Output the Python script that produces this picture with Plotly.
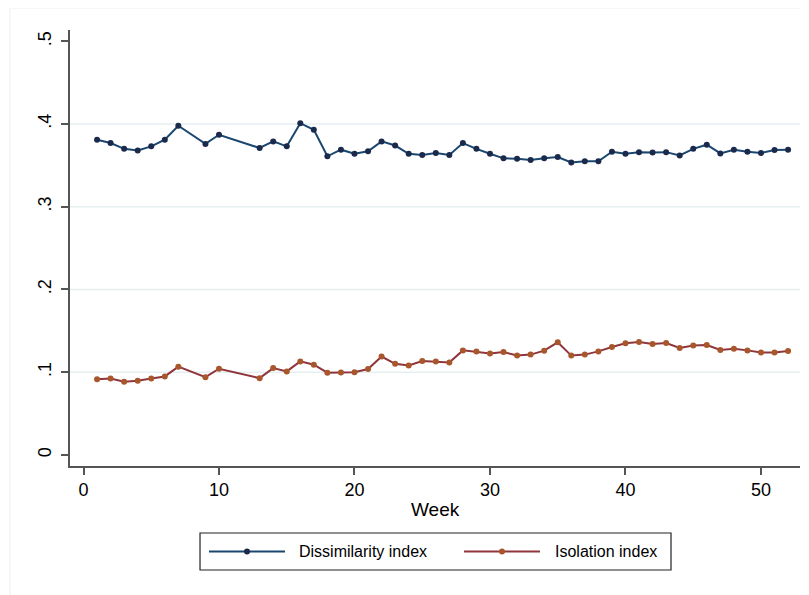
import plotly.graph_objects as go

# weeks 8, 11 and 12 have no observation
weeks = [1, 2, 3, 4, 5, 6, 7, 9, 10, 13, 14, 15, 16, 17, 18, 19, 20, 21, 22, 23,
         24, 25, 26, 27, 28, 29, 30, 31, 32, 33, 34, 35, 36, 37, 38, 39, 40, 41,
         42, 43, 44, 45, 46, 47, 48, 49, 50, 51, 52]

dissimilarity = [0.381, 0.377, 0.370, 0.368, 0.373, 0.381, 0.398, 0.376, 0.387,
                 0.371, 0.379, 0.373, 0.401, 0.393, 0.361, 0.369, 0.364, 0.367,
                 0.379, 0.374, 0.364, 0.3625, 0.365, 0.3625, 0.377, 0.370, 0.364,
                 0.3585, 0.358, 0.3565, 0.3585, 0.360, 0.3535, 0.355, 0.355,
                 0.3665, 0.364, 0.366, 0.3655, 0.366, 0.362, 0.370, 0.375, 0.3645,
                 0.369, 0.3665, 0.365, 0.3685, 0.369]

isolation = [0.0915, 0.0923, 0.0883, 0.0895, 0.0923, 0.0948, 0.1066, 0.0939,
             0.1041, 0.0927, 0.1049, 0.1009, 0.113, 0.109, 0.0993, 0.0996, 0.100,
             0.1037, 0.1189, 0.110, 0.1081, 0.1134, 0.113, 0.1117, 0.1263, 0.1248,
             0.1224, 0.1243, 0.120, 0.1212, 0.126, 0.1361, 0.120, 0.1212, 0.1251,
             0.1304, 0.1349, 0.1365, 0.134, 0.1353, 0.1292, 0.1321, 0.1328,
             0.1267, 0.1284, 0.1263, 0.1238, 0.1238, 0.1255]

series_names = ['Dissimilarity index', 'Isolation index']
y_ticks = [0, 0.1, 0.2, 0.3, 0.4, 0.5]
y_labels = ['0', '.1', '.2', '.3', '.4', '.5']
x_ticks = [0, 10, 20, 30, 40, 50]
grid_vals = [0.1, 0.2, 0.3, 0.4]

navy_line = '#1a476f'
navy_mark = '#1b2a4c'
maroon_line = '#90353b'
maroon_mark = '#a8572c'
axis_col = '#555555'
font_name = 'Liberation Sans, Arial, sans-serif'

fig = go.Figure()

fig.add_trace(
    go.Scatter(
        x=weeks,
        y=dissimilarity,
        name=series_names[0],
        mode='markers+lines',
        line=dict(color=navy_line, width=2),
        marker=dict(color=navy_mark, size=6),
    )
)

fig.add_trace(
    go.Scatter(
        x=weeks,
        y=isolation,
        name=series_names[1],
        mode='markers+lines',
        line=dict(color=maroon_line, width=2),
        marker=dict(color=maroon_mark, size=6),
    )
)

# Stata leaves out the grid lines at the ends of the axis
for g in grid_vals:
    fig.add_hline(y=g, line=dict(color='#e6eff0', width=1.5), layer='below')

# faint outer frame of the graph region
fig.add_shape(type='rect', xref='paper', yref='paper',
              x0=-0.0822, x1=1.2, y0=-0.7, y1=1.0505,
              line=dict(color='#eeeeee', width=1), layer='below')

# Stata style legend box below the plot (drawn by hand, longer key lines)
fig.add_shape(type='rect', xref='paper', yref='paper',
              x0=0.1781, x1=0.8233, y0=-0.2385, y1=-0.1537,
              line=dict(color='#222222', width=1.2), fillcolor='white')

keys = [
    (0.1904, 0.2945, 0.2425, 0.3110, navy_line, navy_mark),
    (0.5397, 0.6438, 0.5918, 0.6616, maroon_line, maroon_mark),
]
key_y = -0.1961
for name, (lx0, lx1, mx, tx, lc, mc) in zip(series_names, keys):
    fig.add_shape(type='line', xref='paper', yref='paper',
                  x0=lx0, x1=lx1, y0=key_y, y1=key_y,
                  line=dict(color=lc, width=2))
    fig.add_shape(type='circle', xref='paper', yref='paper',
                  xsizemode='pixel', ysizemode='pixel',
                  xanchor=mx, yanchor=key_y,
                  x0=-3, x1=3, y0=-3, y1=3,
                  line=dict(color=mc, width=0), fillcolor=mc)
    fig.add_annotation(text=name, xref='paper', yref='paper',
                       x=tx, y=key_y, xanchor='left', yanchor='middle',
                       showarrow=False, font=dict(size=16, color='black'))

fig.add_annotation(text='Week', xref='paper', yref='paper',
                   x=0.5, y=-0.1009, xanchor='center', yanchor='middle',
                   showarrow=False, font=dict(size=19, color='black'))

# the page body adds 8px, so the margins are 8px smaller on the top/left
fig.update_layout(
    width=809,
    height=595,
    plot_bgcolor='white',
    paper_bgcolor='white',
    margin=dict(l=62, r=17, t=22, b=137),
    font=dict(family=font_name, size=18, color='black'),
    showlegend=False,
    xaxis=dict(
        range=[-0.996, 52.88],
        tickvals=x_ticks,
        showgrid=False,
        zeroline=False,
        showline=True,
        linecolor=axis_col,
        linewidth=1.5,
        ticks='outside',
        ticklen=7,
        tickwidth=1.5,
        tickcolor=axis_col,
        tickfont=dict(size=18),
        automargin=False,
    ),
    yaxis=dict(
        range=[-0.0135, 0.5137],
        tickvals=y_ticks,
        ticktext=y_labels,
        tickangle=-90,
        showgrid=False,
        zeroline=False,
        showline=True,
        linecolor=axis_col,
        linewidth=1.5,
        ticks='outside',
        ticklen=7,
        tickwidth=1.5,
        tickcolor=axis_col,
        tickfont=dict(size=18),
        ticklabelstandoff=3,
        automargin=False,
    ),
)

fig.write_html('out.html')
